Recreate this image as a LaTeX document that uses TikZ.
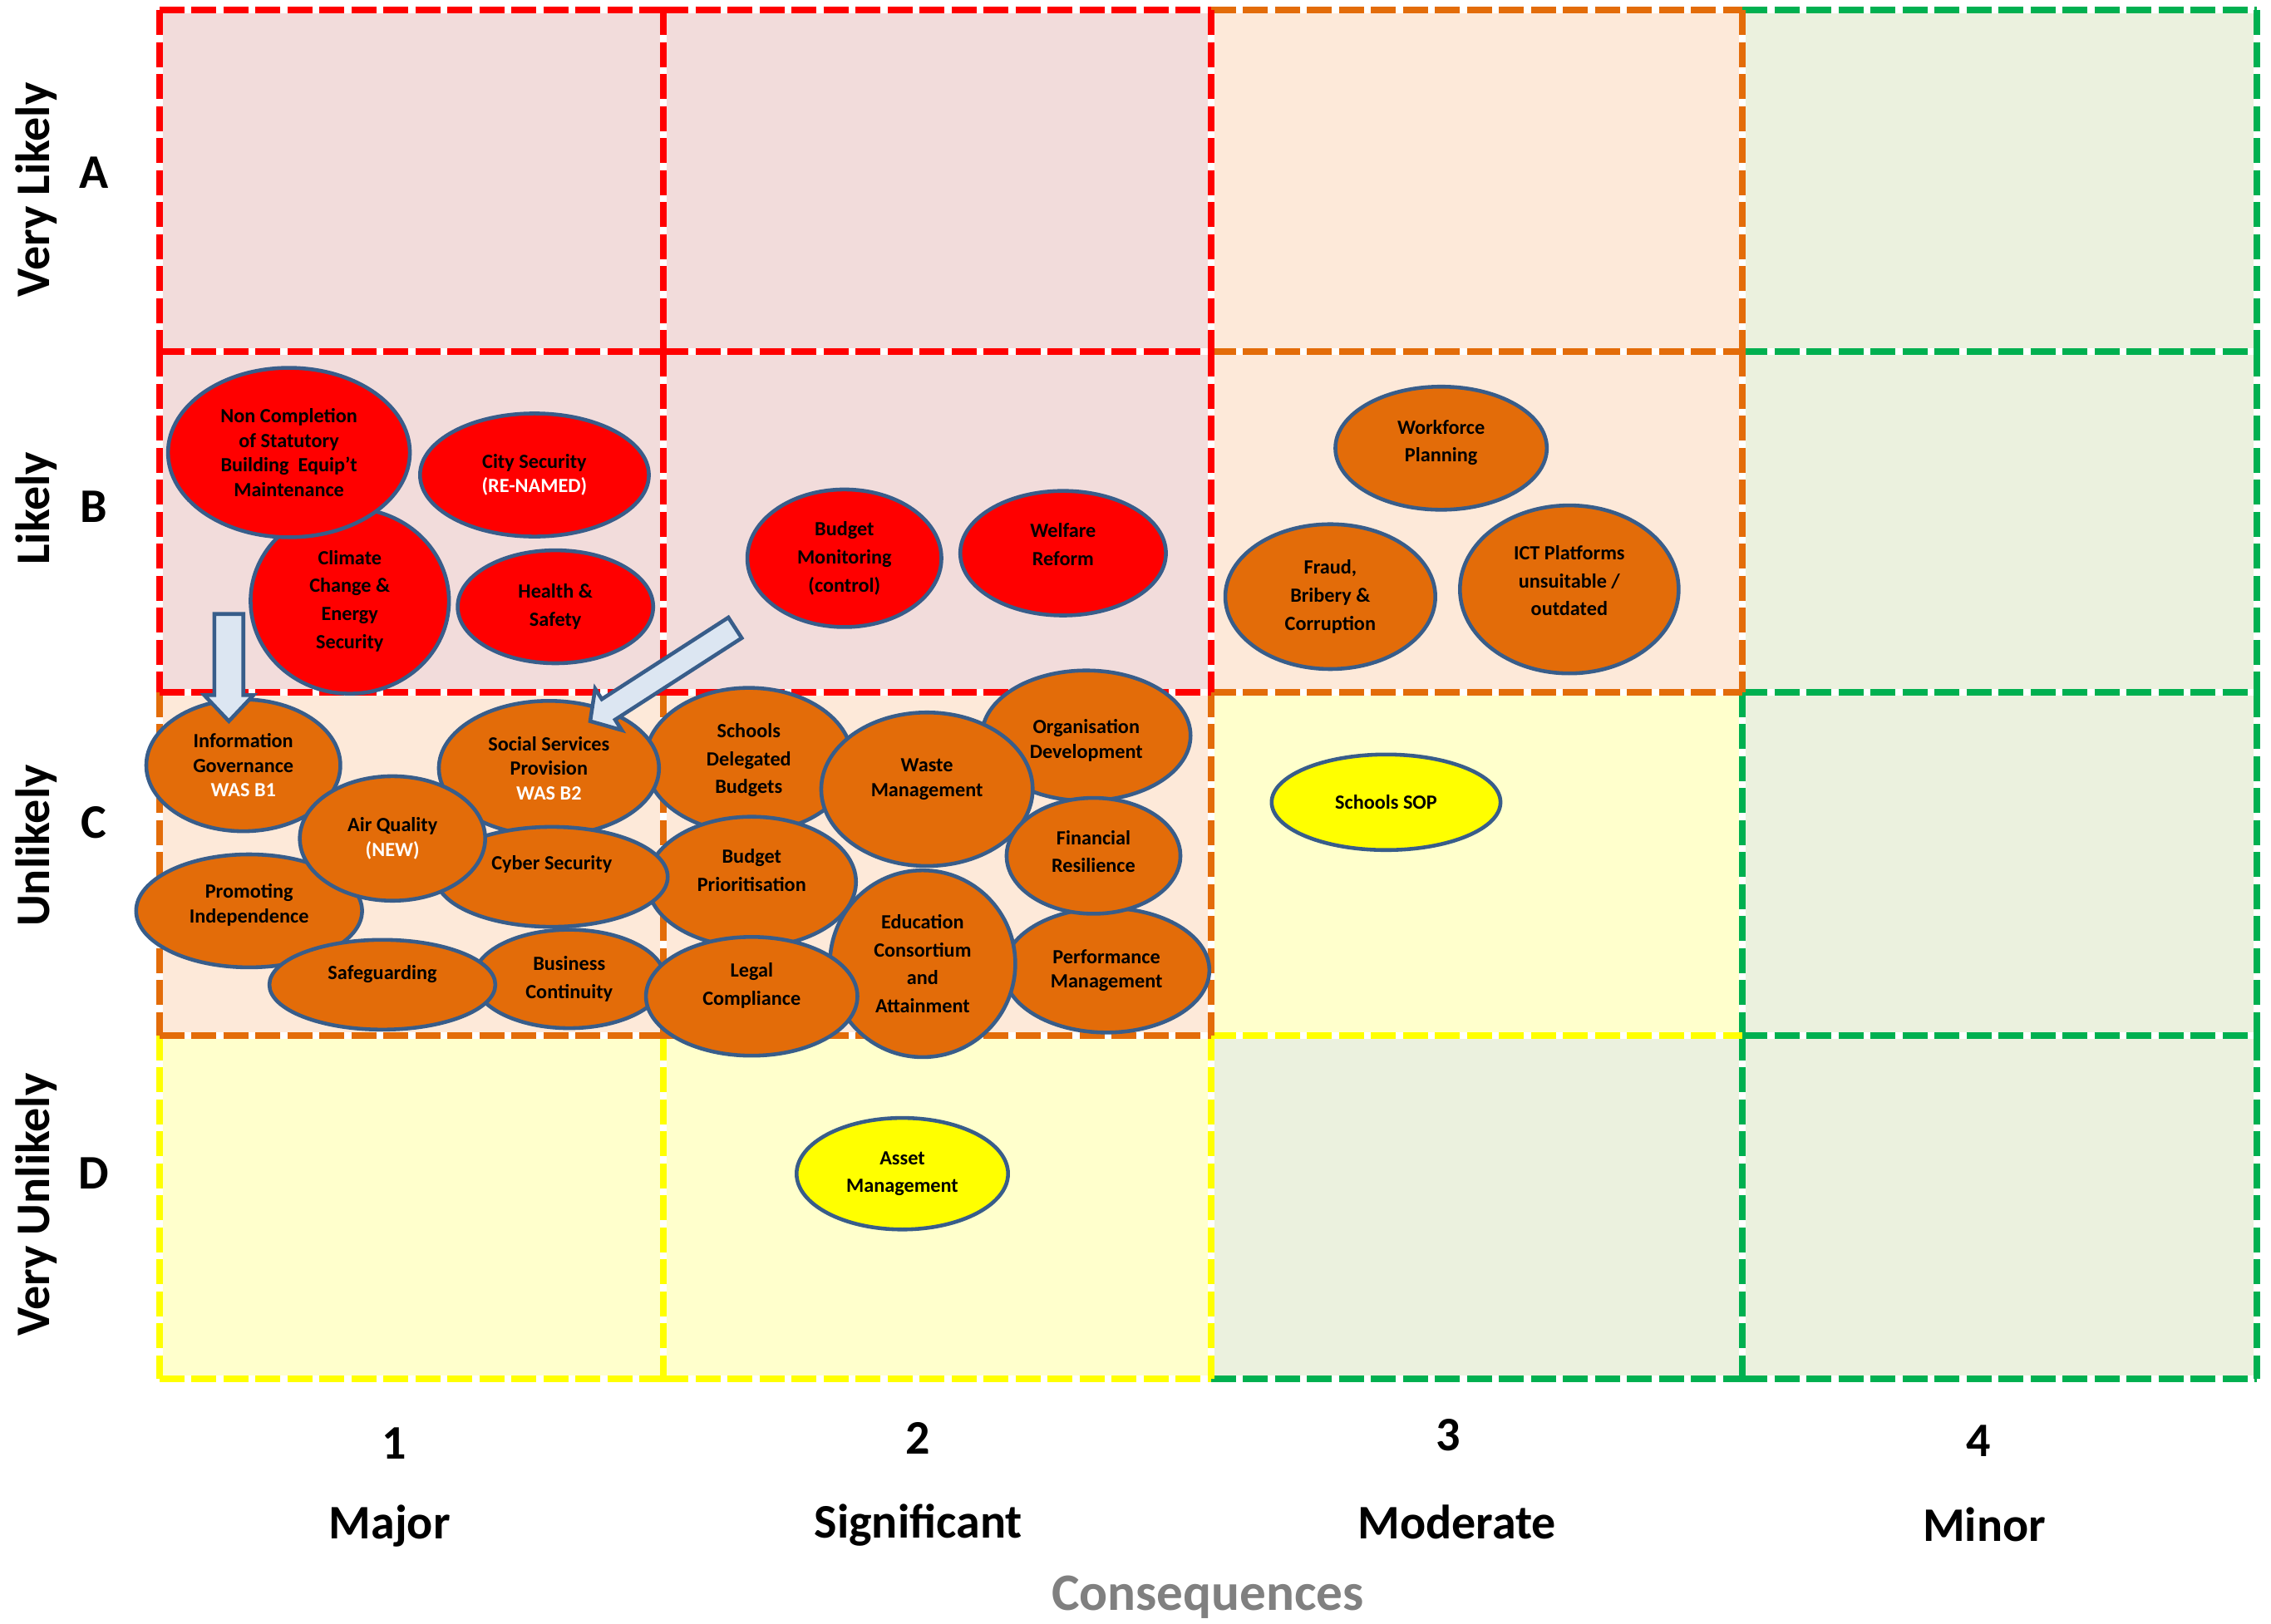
\documentclass[tikz,border=0pt]{standalone}
\usepackage{fontspec}
\setmainfont{Carlito}
\usetikzlibrary{shapes.geometric}

\definecolor{edgeblue}{HTML}{385D8A}
\definecolor{riskred}{HTML}{FF0000}
\definecolor{riskorange}{HTML}{E36C09}
\definecolor{riskyellow}{HTML}{FFFF00}
\definecolor{cellpink}{HTML}{F2DCDB}
\definecolor{cellpeach}{HTML}{FDE9D9}
\definecolor{cellyellow}{HTML}{FFFFCC}
\definecolor{cellgreen}{HTML}{EBF1DE}
\definecolor{linered}{HTML}{FF0000}
\definecolor{lineorange}{HTML}{E36C09}
\definecolor{lineyellow}{HTML}{FFFF00}
\definecolor{linegreen}{HTML}{00B050}
\definecolor{arrowfill}{HTML}{DCE6F2}
\definecolor{axisgrey}{HTML}{808080}

\newlength\pxu
\setlength\pxu{0.17423mm}
% invisible struts to move a label up or down inside its ellipse
\newcommand\padbelow[1]{\rule[-#1]{0pt}{#1}}
\newcommand\padabove[1]{\rule{0pt}{#1}}

\begin{document}
\begin{tikzpicture}[
    x=\pxu, y=-\pxu,
    cell/.style={dash pattern=on 3mm off 0.85mm, line width=0.8mm},
    risk/.style={ellipse, draw=edgeblue, line width=1.3pt,
                 inner sep=0pt, align=center,
                 font=\fontsize{6.9}{8.4}\selectfont\bfseries},
    loose/.style={font=\fontsize{6.9}{9.6}\selectfont\bfseries},
    high/.style={risk, fill=riskred},
    mid/.style={risk, fill=riskorange},
    low/.style={risk, fill=riskyellow},
    dim/.style 2 args={minimum width=#1*\pxu, minimum height=#2*\pxu},
    axislabel/.style={font=\fontsize{16.5}{19}\selectfont\bfseries},
    blockarrow/.style={draw=edgeblue, fill=arrowfill, line width=1.3pt}
]
    \useasboundingbox (0,0) rectangle (1568,1121);

    % cell backgrounds
    \fill[cellpink]   (110,7)   rectangle (836,478);
    \fill[cellpeach]  (836,7)   rectangle (1203,478);
    \fill[cellpeach]  (110,478) rectangle (836,715);
    \fill[cellyellow] (836,478) rectangle (1203,715);
    \fill[cellyellow] (110,715) rectangle (836,952);
    \fill[cellgreen]  (1203,7)  rectangle (1558,952);
    \fill[cellgreen]  (836,715) rectangle (1203,952);

    % white under the dash gaps
    \draw[white, line width=0.8mm] (110,7) rectangle (1558,952)
        (110,243) -- (1558,243) (110,478) -- (1558,478) (110,715) -- (1558,715)
        (458,7) -- (458,952) (836,7) -- (836,952) (1203,7) -- (1203,952);

    % cell borders, one dashed segment per cell side
    \draw[cell, linegreen]
        (1203,7) -- (1558,7) (1203,243) -- (1558,243)
        (1203,478) -- (1558,478) (1203,715) -- (1558,715)
        (836,952) -- (1203,952) (1203,952) -- (1558,952)
        (1558,7) -- (1558,243) (1558,243) -- (1558,478)
        (1558,478) -- (1558,715) (1558,715) -- (1558,952)
        (1203,478) -- (1203,715) (1203,715) -- (1203,952);
    \draw[cell, lineyellow]
        (836,715) -- (1203,715)
        (110,952) -- (458,952) (458,952) -- (836,952)
        (110,715) -- (110,952) (458,715) -- (458,952) (836,715) -- (836,952);
    \draw[cell, lineorange]
        (836,7) -- (1203,7) (836,243) -- (1203,243) (836,478) -- (1203,478)
        (110,715) -- (458,715) (458,715) -- (836,715)
        (1203,7) -- (1203,243) (1203,243) -- (1203,478)
        (110,478) -- (110,715) (458,478) -- (458,715) (836,478) -- (836,715);
    \draw[cell, linered]
        (110,7) -- (458,7) (458,7) -- (836,7)
        (110,243) -- (458,243) (458,243) -- (836,243)
        (110,478) -- (458,478) (458,478) -- (836,478)
        (110,7) -- (110,243) (110,243) -- (110,478)
        (458,7) -- (458,243) (458,243) -- (458,478)
        (836,7) -- (836,243) (836,243) -- (836,478);

    % likelihood axis
    \node[axislabel, rotate=90] (verylikely)   at (25,131) {Very Likely};
    \node[axislabel, rotate=90] (likely)       at (25,351) {Likely};
    \node[axislabel, rotate=90] (unlikely)     at (25,584) {Unlikely};
    \node[axislabel, rotate=90] (veryunlikely) at (25,832) {Very Unlikely};
    \node[axislabel] (rowa) at (65,119) {A};
    \node[axislabel] (rowb) at (65,350) {B};
    \node[axislabel] (rowc) at (65,568) {C};
    \node[axislabel] (rowd) at (65,810) {D};

    % consequence axis
    \node[axislabel] (colone)   at (272,997)  {1};
    \node[axislabel] (coltwo)   at (634,993)  {2};
    \node[axislabel] (colthree) at (1000,991) {3};
    \node[axislabel] (colfour)  at (1366,995) {4};
    \node[axislabel] (major)       at (269,1054)  {Major};
    \node[axislabel] (significant) at (634,1053)  {Significant};
    \node[axislabel] (moderate)    at (1006,1051) {Moderate};
    \node[axislabel] (minor)       at (1370,1053) {Minor};
    \node[font=\fontsize{18}{21}\selectfont\bfseries, text=axisgrey,
        inner sep=1pt] (consequences) at (834,1103) {Consequences};

    % row B risks
    \node[high, loose, dim={137}{128}] (climate) at (241.5,415)
        {Climate\\Change \&\\Energy\\Security};
    \node[high, dim={167}{117}] (noncomp) at (199.5,312.5)
        {Non Completion\\of Statutory\\Building~ Equip’t\\Maintenance};
    \node[high, dim={158}{85}] (citysec) at (369,328)
        {City Security\\\textcolor{white}{(RE-NAMED)}};
    \node[high, loose, dim={135}{78}] (health) at (383.5,419)
        {Health \&\\Safety};
    \node[high, loose, dim={134}{95}] (budgetmon) at (583,385.5)
        {Budget\\Monitoring\\(control)};
    \node[high, loose, dim={142}{86}] (welfare) at (734,382)
        {Welfare\\Reform\padbelow{6pt}};
    \node[mid, loose, dim={146}{85}] (workforce) at (995,309.5)
        {Workforce\\Planning\padbelow{5pt}};
    \node[mid, loose, dim={145}{100}] (fraud) at (918.5,412)
        {Fraud,\\Bribery \&\\Corruption};
    \node[mid, loose, dim={151}{116}] (ict) at (1083.5,407)
        {ICT Platforms\\unsuitable /\\outdated\padbelow{6pt}};

    % row C risks
    \node[mid, dim={134}{91}] (infogov) at (168,528.5)
        {Information\\Governance\\\textcolor{white}{WAS B1}};
    \node[mid, dim={156}{78}] (promoting) at (172,629)
        {Promoting\\Independence\padbelow{5pt}};
    \node[mid, loose, dim={143}{100}] (schoolsdb) at (517,525)
        {Schools\\Delegated\\Budgets};
    \node[mid, loose, dim={144}{90}] (budgetprio) at (519,609)
        {Budget\\Prioritisation\padbelow{8pt}};
    \node[mid, dim={152}{93}] (socserv) at (379,530.5)
        {Social Services\\Provision\\\textcolor{white}{WAS B2}};
    \node[mid, dim={160}{69}] (cyber) at (381,605.5)
        {Cyber Security\padbelow{9.5pt}};
    \node[mid, loose, dim={132}{68}] (business) at (393,676)
        {Business\\Continuity};
    \node[mid, dim={156}{62}] (safeguard) at (264,680)
        {Safeguarding\padbelow{8.5pt}};
    \node[mid, dim={128}{86}] (airq) at (271,579)
        {Air Quality\\\textcolor{white}{(NEW)}};
    \node[mid, dim={144}{90}] (orgdev) at (750,508)
        {\padabove{8pt}Organisation\\Development};
    \node[mid, dim={146}{106}] (waste) at (640,545)
        {Waste\\Management\padbelow{8pt}};
    \node[mid, dim={142}{86}] (perform) at (764,670)
        {Performance\\Management};
    \node[mid, loose, dim={128}{129}] (educ) at (637,665.5)
        {Education\\Consortium\\and\\Attainment};
    \node[mid, loose, dim={146}{82}] (legal) at (519,688)
        {Legal\\Compliance\padbelow{8.5pt}};
    \node[mid, loose, dim={120}{80}] (finres) at (755,591)
        {Financial\\Resilience\padbelow{3pt}};
    \node[low, dim={158}{66}] (schoolssop) at (957,554)
        {Schools SOP};

    % row D risks
    \node[low, loose, dim={146}{77}] (asset) at (623,810.5)
        {Asset\\Management};

    % moved from B1 and B2
    \draw[blockarrow] (148,424) -- (168,424) -- (168,480) -- (175,480)
        -- (158,498) -- (141,480) -- (148,480) -- cycle;
    \draw[blockarrow] (512.1,440.6) -- (502.9,426.4) -- (415.5,482.8)
        -- (410.9,475.6) -- (407.5,498) -- (429.3,504.2) -- (424.7,497.0)
        -- cycle;

\end{tikzpicture}
\end{document}
